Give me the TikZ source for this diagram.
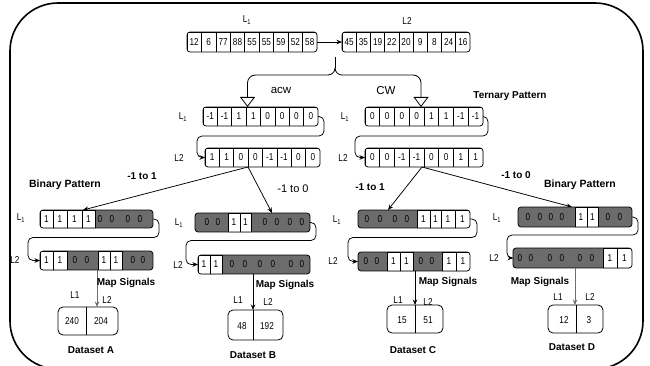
\documentclass[tikz,border=0pt]{standalone}
\usepackage{fontspec}
\setmainfont{Liberation Sans}
\newfontfamily\narrowsans{Liberation Sans}[FakeStretch=0.82]
\usetikzlibrary{arrows.meta,calc}
\definecolor{cellgray}{RGB}{108,108,108}
\definecolor{mapgray}{RGB}{110,110,110}

\tikzset{
  arr/.style={draw, rounded corners=3pt, inner sep=0pt, outer sep=0pt, line width=0.75pt},
  cellline/.style={line width=0.65pt},
  celltxt/.style={inner sep=0pt, font=\narrowsans\fontsize{10}{11}\selectfont},
  lbl/.style={inner sep=0pt, font=\narrowsans\fontsize{10}{11}\selectfont},
  boldlbl/.style={inner sep=0pt, font=\bfseries\fontsize{10}{12}\selectfont},
  biglbl/.style={inner sep=0pt, font=\fontsize{11.5}{13}\selectfont},
  conn/.style={line width=0.75pt, -{Stealth[length=5.5pt,width=4.5pt]}},
  hollow/.style={line width=0.8pt, -{Triangle[open,length=10pt,width=15pt]}},
  dsbox/.style={draw, rounded corners=5pt, line width=0.8pt, inner sep=0pt, outer sep=0pt},
}

% row of equal white cells: name, x0, x1, y0, y1, count, values
\newcommand\uarr[7]{%
  \pgfmathsetmacro\cellw{(#3-#2)/#6}
  \begin{scope}
    \clip[rounded corners=3pt] (#2,#4) rectangle (#3,#5);
    \foreach \t [count=\i] in {#7}{
      \draw[cellline] ({#2+(\i-1)*\cellw},#4) rectangle ({#2+\i*\cellw},#5);
      \node[celltxt] (#1-\i) at ({#2+(\i-0.5)*\cellw},{(#4+#5)/2}) {\t};
    }
  \end{scope}
  \node[arr, minimum width={(#3-#2)*1pt}, minimum height={(#5-#4)*1pt}] (#1) at ({(#2+#3)/2},{(#4+#5)/2}) {};
}

% row with shaded runs: name, x0, x1, y0, y1, gray runs, white cells, text positions
\newcommand\arr[8]{%
  \begin{scope}
    \clip[rounded corners=3pt] (#2,#4) rectangle (#3,#5);
    \foreach \a/\b in {#6}{\fill[cellgray] (\a,#4) rectangle (\b,#5);}
    \foreach \a/\b in {#7}{\draw[cellline] (\a,#4) rectangle (\b,#5);}
  \end{scope}
  \node[arr, minimum width={(#3-#2)*1pt}, minimum height={(#5-#4)*1pt}] (#1) at ({(#2+#3)/2},{(#4+#5)/2}) {};
  \foreach \x/\t [count=\i] in {#8}{\node[celltxt] (#1-\i) at (\x,{(#4+#5)/2}) {\t};}
}

\begin{document}
\begin{tikzpicture}[x=1pt, y=-1pt]
\useasboundingbox (0,0) rectangle (650,366);
\clip (0,0) rectangle (650,366);

% outer frame
\draw[line width=1.6pt, rounded corners=48pt] (10,3) rectangle (643,369);

% input signals
\uarr{tl}{187}{317}{32}{52}{9}{12,6,77,88,55,55,59,52,58}
\uarr{tr}{342}{470}{32}{52}{9}{45,35,19,22,20,9,8,24,16}
\node[lbl] (tlL) at (247,20) {L\textsubscript{1}};
\node[lbl] (trL) at (407,21) {L2};
\draw[conn] (tl) -- (tr);

% split into the two rotations
\coordinate (stemtop) at (335,57);
\coordinate (brace) at (335,68);
\coordinate (bl) at (328,75);
\coordinate (br) at (342,75);
\coordinate (acwin) at (247.5,107);
\coordinate (cwin) at (421,107);
\draw[line width=0.8pt] (stemtop) -- (brace);
\draw[line width=0.8pt] (brace) to[out=270,in=0] (bl);
\draw[line width=0.8pt] (brace) to[out=270,in=180] (br);
\draw[hollow, rounded corners=8pt] (bl) -| (acwin);
\draw[hollow, rounded corners=8pt] (br) -| (cwin);
\node[biglbl] (acwT) at (281,90) {acw};
\node[biglbl] (cwT) at (386,91) {CW};
\node[boldlbl] (tern) at (510,96) {Ternary Pattern};

% ternary patterns
\uarr{al1}{203}{318}{107}{126}{8}{-1,-1,1,1,0,0,0,0}
\uarr{al2}{205}{320}{148}{167}{8}{1,1,0,0,-1,-1,0,0}
\uarr{cl1}{365}{483}{107}{126}{8}{0,0,0,0,1,1,-1,-1}
\uarr{cl2}{365}{483}{148}{167}{8}{0,0,-1,-1,0,0,1,1}
\node[lbl] (al1L) at (183,117) {L\textsubscript{1}};
\node[lbl] (al2L) at (179,158) {L2};
\node[lbl] (cl1L) at (345,117) {L\textsubscript{1}};
\node[lbl] (cl2L) at (343,158) {L2};
\draw[conn, rounded corners=5pt] (al1.east) -- ++(6,0) |- ($(al2.west)+(-8,-21.5)$) |- (al2.west);
\draw[conn, rounded corners=5pt] (cl1.east) -- ++(5,0) |- ($(cl2.west)+(-10,-21.5)$) |- (cl2.west);

% mapping to binary patterns
\coordinate (aout) at (248,167);
\coordinate (cout) at (422,167);
\coordinate (tA) at (83,210);
\coordinate (tB) at (272,213);
\coordinate (tC) at (388,210);
\coordinate (tD) at (572,207);
\draw[conn] (aout) -- (tA);
\draw[conn] (aout) -- (tB);
\draw[conn] (cout) -- (tC);
\draw[conn] (cout) -- (tD);
\node[boldlbl] (m1) at (142,176) {-1 to 1};
\node[inner sep=0pt, font=\fontsize{11}{13}\selectfont] (m2) at (293,189) {-1 to 0};
\node[boldlbl] (m3) at (370,187) {-1 to 1};
\node[boldlbl] (m4) at (516,175) {-1 to 0};
\node[boldlbl, font=\bfseries\fontsize{10.5}{12}\selectfont] (bp1) at (65,185) {Binary Pattern};
\node[boldlbl, font=\bfseries\fontsize{10.5}{12}\selectfont] (bp2) at (580,185) {Binary Pattern};

% binary patterns
\arr{a1}{40}{153}{210}{228}{95/153}{40/53,53/67,67/82,82/95}{46.5/1,60/1,74.5/1,88.5/1,100/0,112/0,128/0,140/0}
\arr{a2}{40}{153}{251}{270}{67/98,122/153}{40/53,53/67,98/110,110/122}{46.5/1,60/1,75/0,87/0,104/1,116/1,133/0,143/0}
\arr{b1}{195}{310}{213}{232}{195/228,251/310}{228/240,240/251}{207/0,218/0,234/1,245.5/1,265/0,277/0,290/0,302/0}
\arr{b2}{198}{310}{255}{274}{222/310}{198/210,210/222}{204/1,216/1,232/0,245/0,260/0,273/0,291/0,302/0}
\arr{c1}{358}{470}{210}{228}{358/417}{417/430,430/441,441/455,455/470}{367/0,380/0,395/0,407/0,423.5/1,435.5/1,448/1,462.5/1}
\arr{c2}{358}{470}{252}{271}{358/387,413/442}{387/400,400/413,442/456,456/470}{366/0,377/0,393.5/1,406.5/1,421/0,432/0,449/1,463/1}
\arr{d1}{518}{632}{207}{227}{518/575,598/632}{575/587,587/598}{528/0,540/0,551/0,562/0,581/1,592.5/1,608/0,620/0}
\arr{d2}{513}{632}{248}{268}{513/603}{603/617,617/632}{520/0,531/0,550/0,562/0,580/0,592/0,610/1,624.5/1}

\node[lbl] (a1L) at (21,218) {L\textsubscript{1}};
\node[lbl] (a2L) at (15,260) {L2};
\node[lbl] (b1L) at (179,223) {L\textsubscript{1}};
\node[lbl] (b2L) at (178,265) {L2};
\node[lbl] (c1L) at (337,220) {L\textsubscript{1}};
\node[lbl] (c2L) at (333,261) {L2};
\node[lbl] (d1L) at (497,218) {L\textsubscript{1}};
\node[lbl] (d2L) at (494,258) {L2};

\draw[conn, rounded corners=5pt] (a1.east) -- ++(6,0) |- ($(a2.west)+(-12,-23)$) |- (a2.west);
\draw[conn, rounded corners=5pt] (b1.east) -- ++(6,0) |- ($(b2.west)+(-12,-24)$) |- (b2.west);
\draw[conn, rounded corners=5pt] (c1.east) -- ++(7,0) |- ($(c2.west)+(-10,-24)$) |- (c2.west);
\draw[conn, rounded corners=5pt] (d1.east) -- ++(6,0) |- ($(d2.west)+(-6,-23)$) |- (d2.west);

% datasets
\node[dsbox, minimum width=60pt, minimum height=28pt] (dsA) at (88,321) {};
\node[dsbox, minimum width=55pt, minimum height=30pt] (dsB) at (255.5,325) {};
\node[dsbox, minimum width=56pt, minimum height=28pt] (dsC) at (415,319) {};
\node[dsbox, minimum width=55pt, minimum height=28pt] (dsD) at (575.5,319) {};

\coordinate (aDiv) at (86,0);
\coordinate (bDiv) at (253,0);
\coordinate (cDiv) at (415,0);
\coordinate (dDiv) at (576,0);
\draw[line width=0.75pt] (aDiv |- dsA.north) -- (aDiv |- dsA.south);
\draw[line width=0.75pt] (bDiv |- dsB.north) -- (bDiv |- dsB.south);
\draw[line width=0.75pt] (cDiv |- dsC.north) -- (cDiv |- dsC.south);
\draw[line width=0.75pt] (dDiv |- dsD.north) -- (dDiv |- dsD.south);

\coordinate (aMap) at (97,0);
\coordinate (dMap) at (575,0);
\draw[conn, mapgray] (aMap |- a2.south) -- (aMap |- dsA.north);
\draw[conn] (bDiv |- b2.south) -- (bDiv |- dsB.north);
\draw[conn] (cDiv |- c2.south) -- (cDiv |- dsC.north);
\draw[conn, mapgray] (dMap |- d2.south) -- (dMap |- dsD.north);

\node[boldlbl] (msA) at (126,283) {Map Signals};
\node[boldlbl] (msB) at (285,285) {Map Signals};
\node[boldlbl] (msC) at (448,282) {Map Signals};
\node[boldlbl] (msD) at (540,282) {Map Signals};

\node[lbl] (dA1) at (75,295) {L1};
\node[lbl] (dA2) at (107,300) {L2};
\node[lbl] (dB1) at (238,300) {L1};
\node[lbl] (dB2) at (268,302) {L2};
\node[lbl] (dC1) at (398,300) {L1};
\node[lbl] (dC2) at (428,302) {L2};
\node[lbl] (dD1) at (558,297) {L1};
\node[lbl] (dD2) at (590,297) {L2};

\node[celltxt] (vA1) at (72,321) {240};
\node[celltxt] (vA2) at (101,321) {204};
\node[celltxt] (vB1) at (242,326) {48};
\node[celltxt] (vB2) at (267,326) {192};
\node[celltxt] (vC1) at (402,320) {15};
\node[celltxt] (vC2) at (428,320) {51};
\node[celltxt] (vD1) at (564,320) {12};
\node[celltxt] (vD2) at (589,320) {3};

\node[boldlbl] (nA) at (91,350) {Dataset A};
\node[boldlbl] (nB) at (253,355) {Dataset B};
\node[boldlbl] (nC) at (413,350) {Dataset C};
\node[boldlbl] (nD) at (572,347) {Dataset D};
\end{tikzpicture}
\end{document}
